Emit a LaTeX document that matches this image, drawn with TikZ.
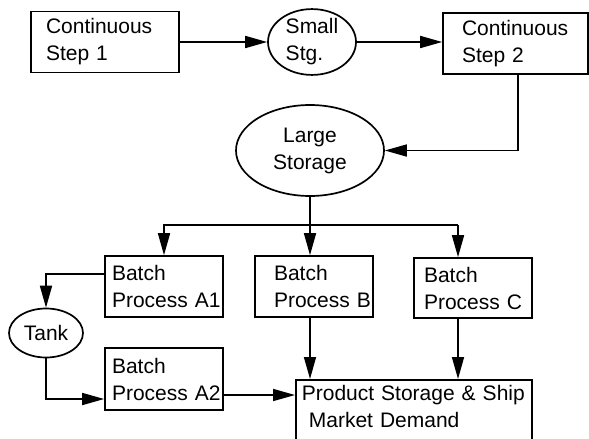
\documentclass[tikz,border=0pt]{standalone}
\usepackage{fontspec}
\setmainfont{Liberation Sans}
\usetikzlibrary{arrows.meta,shapes.geometric}

\begin{document}
\begin{tikzpicture}[x=1pt, y=-1pt, >={Triangle[length=22pt,width=12pt]},
	line width=1.7pt, font=\fontsize{21}{27}\selectfont,
	unit/.style={draw, rectangle, inner ysep=0pt, minimum width=118pt, minimum height=61pt, align=left},
	store/.style={draw, ellipse, inner sep=0pt, align=center}]
	\useasboundingbox (0,0) rectangle (589,439);

	% Nodes {continuous steps, storages, batch units, product}
	\node [unit, minimum width=148pt, inner xsep=15pt, text width=118pt] (cs1) at (105,42) {Continuous\\Step~1};
	\node [store, minimum width=88pt, minimum height=64pt, align=left]   (small) at (312,42) {Small\\Stg.};
	\node [unit, minimum width=145pt, inner xsep=19pt, text width=107pt] (cs2) at (515.5,43.5) {Continuous\\Step~2};
	\node [store, minimum width=148pt, minimum height=91pt]               (large) at (310,150.5) {Large\\Storage};

	\node [unit, inner xsep=7pt, text width=104pt]  (a1) at (164,286.5) {Batch\\Process~A1};
	\node [unit, inner xsep=19pt, text width=80pt]  (b)  at (314,286.5) {Batch\\Process~B};
	\node [unit, inner xsep=10pt, text width=98pt, minimum height=60pt] (c) at (473,288) {Batch\\Process~C};
	\node [store, minimum width=74pt, minimum height=49pt] (tank) at (46,333) {Tank};
	\node [unit, inner xsep=7pt, text width=104pt, minimum height=62pt] (a2) at (164,379) {Batch\\Process~A2};
	\node [draw, rectangle, anchor=north west, minimum width=236pt, inner xsep=6pt, inner ysep=5pt,
	       text width=224pt, align=left] (ps) at (295,379)
	       {Product Storage \& Ship\\\hspace*{7pt}Market Demand\rule[-40pt]{0pt}{40pt}};

	\coordinate (cdrop) at (458,225);

	% Paths
	\draw [->] (cs1.east) -- (cs1.east -| small.west);
	\draw [->] (small.east) -- (small.east -| cs2.west);
	\draw [->] ([xshift=2.5pt]cs2.south) |- (large.east);
	\draw [->] (large.south) -- (large.south |- b.north);
	\draw [->] (cdrop) -- (a1.north |- cdrop) -- (a1.north);
	\draw [->] (cdrop) -- (cdrop |- c.north);
	\draw [->] ([yshift=12.5pt]a1.west) -| (tank.north);
	\draw [->] (tank.south) |- ([yshift=-20pt]a2.west);
	\draw [->] ([yshift=-16pt]a2.east) -- ([yshift=-16pt]a2.east -| ps.west);
	\draw [->] (b.south -| large.south) -- (ps.north -| large.south);
	\draw [->] (c.south -| cdrop) -- (ps.north -| cdrop);
\end{tikzpicture}
\end{document}
